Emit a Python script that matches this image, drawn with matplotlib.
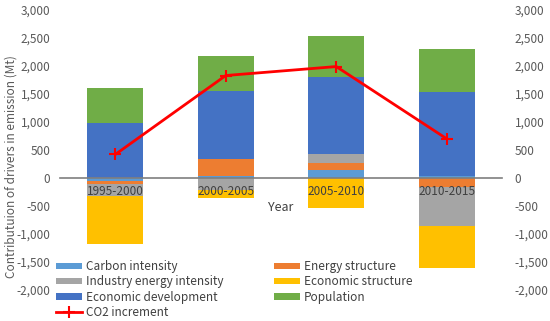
import matplotlib
matplotlib.use("Agg")
import matplotlib.pyplot as plt
import numpy as np
from matplotlib.patches import Patch
from matplotlib.lines import Line2D

plt.rcParams['font.family'] = ['Noto Sans CJK SC', 'DejaVu Sans']

periods = ["1995-2000", "2000-2005", "2005-2010", "2010-2015"]
carbon_intensity = [-50, 40, 145, 30]
energy_structure = [-65, 305, 130, -155]
industry_energy_intensity = [-210, -210, 150, -700]
economic_structure = [-845, -140, -540, -755]
economic_development = [990, 1210, 1385, 1506]
population = [610, 625, 720, 770]
co2_increment = [420, 1830, 1990, 700]

series = [
    ("Carbon intensity", carbon_intensity, "#5B9BD5"),
    ("Energy structure", energy_structure, "#ED7D31"),
    ("Industry energy intensity", industry_energy_intensity, "#A5A5A5"),
    ("Economic structure", economic_structure, "#FFC000"),
    ("Economic development", economic_development, "#4472C4"),
    ("Population", population, "#70AD47"),
]

txt = "#595959"
fig = plt.figure(figsize=(5.5, 3.21), dpi=100)
ax = fig.add_axes([60/550, 1-290/321, 442/550, 280/321])
ax.set_axisbelow(False)
x = np.arange(len(periods))
pos_base = np.zeros(len(periods))
neg_base = np.zeros(len(periods))
handles = {}
for name, vals, col in series:
    v = np.array(vals, dtype=float)
    bottoms = np.where(v >= 0, pos_base, neg_base)
    ax.bar(x, v, width=0.51, bottom=bottoms, color=col, label=name, zorder=1)
    handles[name] = Patch(facecolor=col, edgecolor='none')
    pos_base = pos_base + np.where(v >= 0, v, 0)
    neg_base = neg_base + np.where(v < 0, v, 0)

ax.plot(x, co2_increment, color="#FF0000", lw=2, marker='+', ms=9, mew=1.5, zorder=4)
handles["CO2 increment"] = Line2D([], [], color="#FF0000", lw=2, marker='+', ms=9, mew=1.5)

ax.set_xlim(-0.5, 3.5)
ax.set_ylim(-2000, 3000)
ax.set_yticks(np.arange(-2000, 3001, 500))
ax.yaxis.set_major_formatter(matplotlib.ticker.FuncFormatter(lambda v, p: f"{int(v):,}"))
for s in ['top', 'right', 'left']:
    ax.spines[s].set_visible(False)
ax.spines['bottom'].set_position(('data', 0))
ax.spines['bottom'].set_color('#7F7F7F')
ax.spines['bottom'].set_linewidth(1.2)
ax.spines['bottom'].set_zorder(3)
ax.set_xticks(x)
ax.set_xticklabels(periods)
ax.tick_params(axis='x', length=0, pad=5, labelsize=8.5, labelcolor="#404040")
ax.tick_params(axis='y', length=0, pad=7, labelsize=8.5, labelcolor=txt)
ax.set_xlabel("Year", fontsize=9, color="#404040", labelpad=2)
ax.set_ylabel("Contributuion of drivers in emission (Mt)", fontsize=8.5, color=txt)
ax.yaxis.set_label_coords(-0.095, 0.44)

ax2 = ax.twinx()
ax2.set_position(ax.get_position())
ax2.set_ylim(-2000, 3000)
ax2.set_yticks(np.arange(-2000, 3001, 500))
ax2.yaxis.set_major_formatter(matplotlib.ticker.FuncFormatter(lambda v, p: f"{int(v):,}"))
for s in ax2.spines.values():
    s.set_visible(False)
ax2.tick_params(axis='y', length=0, pad=9, labelsize=8.5, labelcolor=txt)

col1 = ["Carbon intensity", "Industry energy intensity", "Economic development", "CO2 increment"]
col2 = ["Energy structure", "Economic structure", "Population"]
kw = dict(frameon=False, fontsize=8.5, handlelength=2.2, handleheight=0.45,
          handletextpad=0.3, labelspacing=0.2, borderaxespad=0, borderpad=0, labelcolor="#404040")
leg1 = fig.legend([handles[n] for n in col1], col1, loc='upper left',
                  bbox_to_anchor=(56/550, 1-260/321), **kw)
leg2 = fig.legend([handles[n] for n in col2], col2, loc='upper left',
                  bbox_to_anchor=(274/550, 1-260/321), **kw)

fig.savefig("out.png", dpi=100)
